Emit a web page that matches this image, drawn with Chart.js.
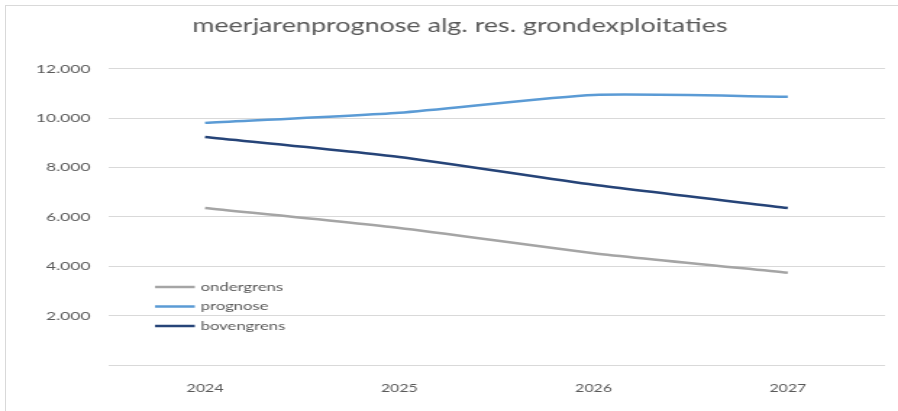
<!DOCTYPE html>
<html>
<head>
<meta charset="utf-8">
<script src="https://cdn.jsdelivr.net/npm/chart.js@4/dist/chart.umd.min.js"></script>
<style>
  html, body { margin: 0; padding: 0; background: #fff; overflow: hidden; }
  #frame { position: absolute; left: 5px; top: 5px; width: 940px; height: 440px; border: 1px solid #d9d9d9; }
  /* de bron is horizontaal uitgerekt, dus het canvas ook */
  #wrap { position: absolute; left: 0; top: 0; width: 620px; height: 411px; transform: scaleX(1.4484); transform-origin: 0 0; }
</style>
</head>
<body>
<div id="frame"></div>
<div id="wrap"><canvas id="chart" width="620" height="411"></canvas></div>
<script>
let years = ['2024', '2025', '2026', '2027'];
let ondergrens = [6360, 5550, 4530, 3740];
let prognose = [9810, 10220, 10940, 10870];
let bovengrens = [9240, 8430, 7300, 6360];
let yTicks = [2000, 4000, 6000, 8000, 10000, 12000];

let textColor = '#595959';

function formatNumber(v) {
    return v.toLocaleString('nl-NL');
}

// legenda binnen het plotgebied, linksonder
const innerLegend = {
    id: 'innerLegend',
    afterDraw(chart) {
        let ctx = chart.ctx;
        ctx.save();
        ctx.font = '11.5px Lato';
        ctx.fillStyle = textColor;
        ctx.textBaseline = 'middle';
        chart.data.datasets.forEach(function(ds, i) {
            let y = 287 + i * 19.5;
            ctx.strokeStyle = ds.borderColor;
            ctx.lineWidth = 2.5;
            ctx.beginPath();
            ctx.moveTo(107, y);
            ctx.lineTo(134.5, y);
            ctx.stroke();
            ctx.fillText(ds.label, 138.5, y);
        });
        ctx.restore();
    }
};

function makeDataset(label, data, color) {
    return {
        label: label,
        data: data,
        borderColor: color,
        backgroundColor: color,
        borderWidth: 2.5,
        pointRadius: 0,
        tension: 0.2,
        fill: false
    };
}

let ctx = document.getElementById('chart').getContext('2d');
let myChart = new Chart(ctx, {
    type: 'line',
    data: {
        labels: years,
        datasets: [
            makeDataset('ondergrens', ondergrens, '#a5a5a5'),
            makeDataset('prognose', prognose, '#5b9bd5'),
            makeDataset('bovengrens', bovengrens, '#264478')
        ]
    },
    options: {
        responsive: false,
        animation: false,
        layout: {
            padding: { left: 24, right: 9, top: 0, bottom: 6 }
        },
        plugins: {
            legend: { display: false },
            tooltip: { enabled: false },
            title: {
                display: true,
                text: 'meerjarenprognose alg. res. grondexploitaties',
                color: textColor,
                font: { family: 'Lato', size: 18.6, weight: 'normal' },
                padding: { top: 15, bottom: 31.5 }
            }
        },
        scales: {
            x: {
                offset: true,
                grid: { display: false },
                border: { display: false },
                ticks: {
                    color: textColor,
                    font: { family: 'Lato', size: 11 },
                    padding: 9
                },
                afterFit: function(scale) { scale.height = 40; }
            },
            y: {
                min: 0,
                max: 12000,
                afterBuildTicks: function(scale) {
                    scale.ticks = [0].concat(yTicks).map(function(v) { return { value: v }; });
                },
                grid: {
                    color: '#d9d9d9',
                    lineWidth: 1,
                    drawTicks: false
                },
                border: { display: false },
                ticks: {
                    color: textColor,
                    font: { family: 'Lato', size: 12 },
                    padding: 12,
                    callback: function(v) { return v === 0 ? '' : formatNumber(v); }
                },
                afterFit: function(scale) { scale.width = 50.5; }
            }
        }
    },
    plugins: [innerLegend]
});
</script>
</body>
</html>
